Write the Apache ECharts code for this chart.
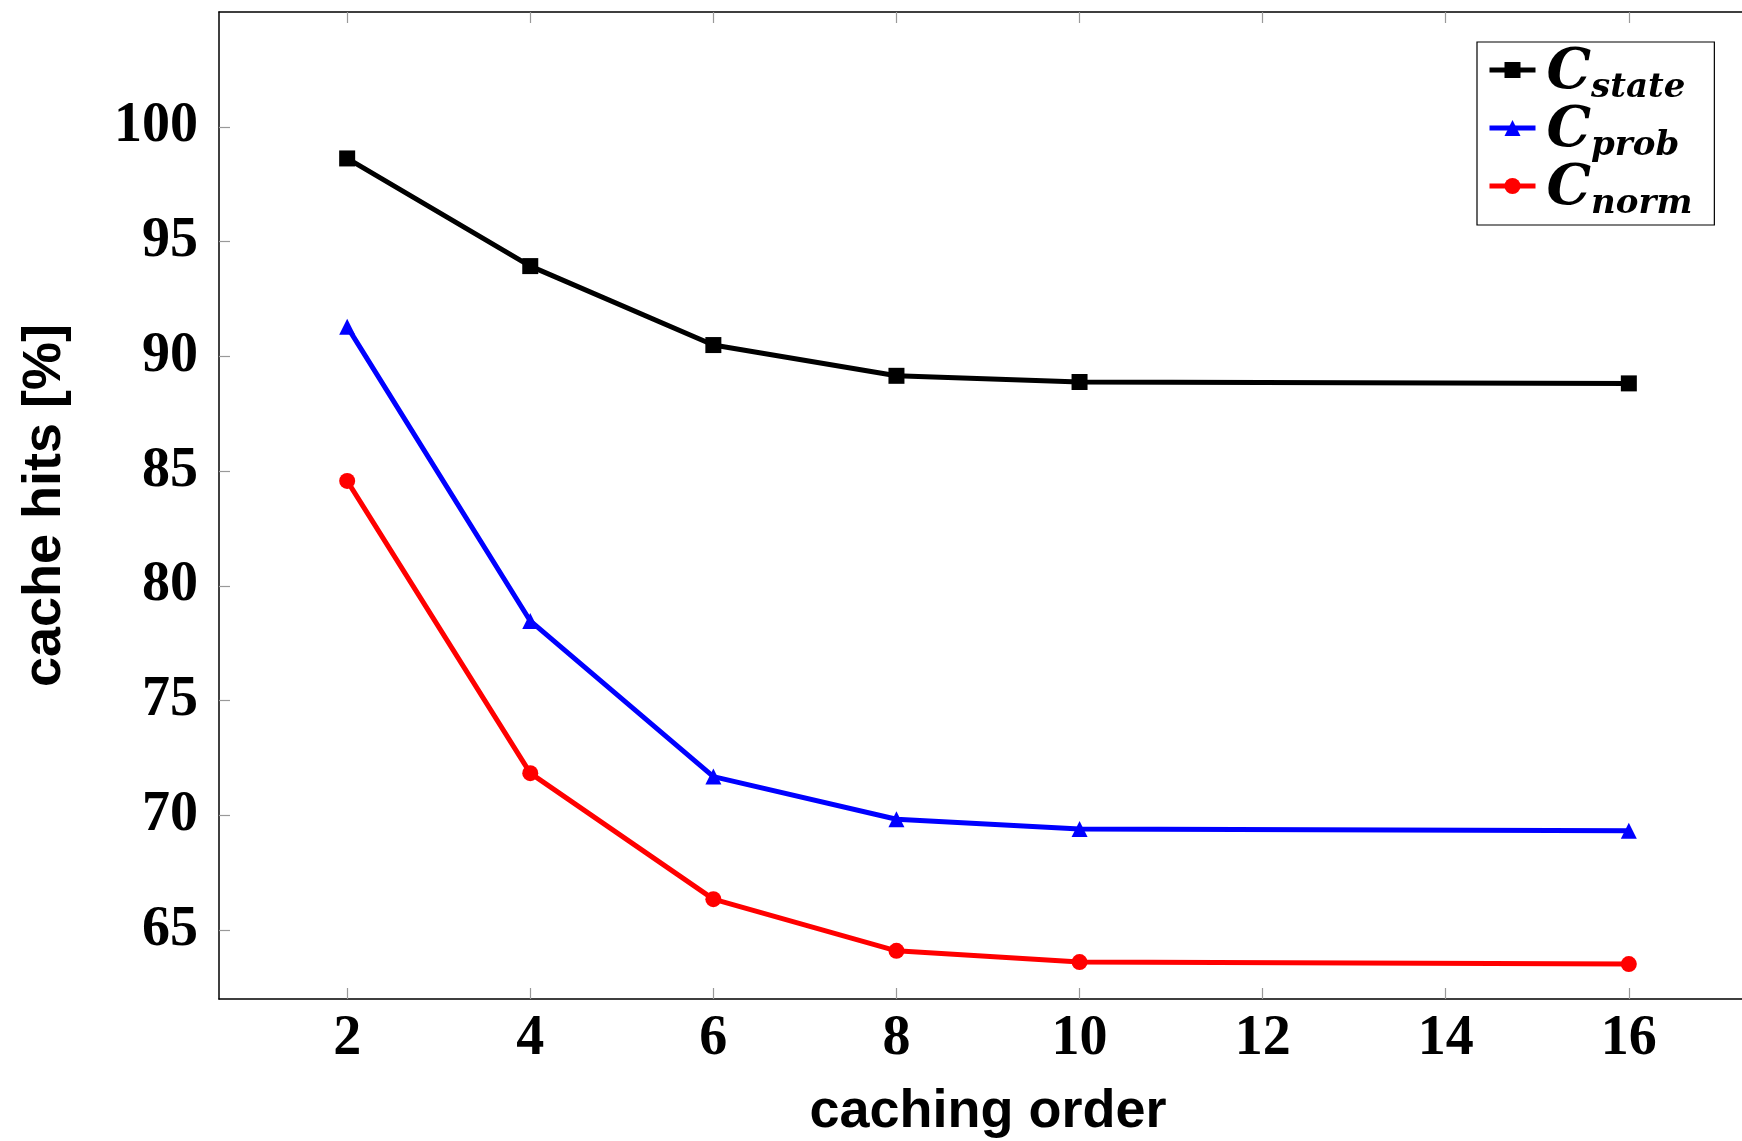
<!DOCTYPE html>
<html>
<head>
<meta charset="utf-8">
<script src="https://cdn.jsdelivr.net/npm/echarts@6/dist/echarts.min.js"></script>
<style>
  html, body { margin: 0; padding: 0; background: #fff; }
  #chart { width: 1742px; height: 1141px; }
</style>
</head>
<body>
<div id="chart"></div>
<script>
// caching order (x) and cache hit ratio per variant
const cachingOrder = [2, 4, 6, 8, 10, 16]
const stateHits = [98.62, 93.93, 90.49, 89.15, 88.88, 88.82]
const probHits = [91.29, 78.47, 71.69, 69.83, 69.41, 69.33]
const normHits = [84.57, 71.84, 66.35, 64.10, 63.61, 63.52]

const xTicks = [2, 4, 6, 8, 10, 12, 14, 16]
const yTicks = [65, 70, 75, 80, 85, 90, 95, 100]

const seriesNames = ['state', 'prob', 'norm']
const seriesColors = ['#000000', '#0000ff', '#ff0000']
const seriesSymbols = ['rect', 'triangle', 'circle']
const seriesValues = [stateHits, probHits, normHits]

const tickFont = {
  fontFamily: 'Liberation Serif',
  fontWeight: 'bold',
  fontSize: 56,
  color: '#000'
}
const nameFont = {
  fontFamily: 'Liberation Sans',
  fontWeight: 'bold',
  fontSize: 54,
  color: '#000'
}
const tickStyle = { color: '#999', width: 1.2 }

const chart = echarts.init(document.getElementById('chart'))

const option = {
  animation: false,
  backgroundColor: '#fff',
  // plot area runs past the right edge of the canvas, like the original
  grid: {
    left: 219, top: 12, right: -15, bottom: 142,
    containLabel: false,
    outerBoundsMode: 'none'
  },
  legend: {
    orient: 'vertical',
    left: 1477,
    top: 42,
    padding: [3, 22, 4, 10],
    itemGap: -2,
    itemWidth: 46,
    itemHeight: 20,
    borderColor: '#000',
    borderWidth: 1.2,
    backgroundColor: '#fff',
    lineStyle: { width: 5 },
    formatter: name => '{c|C}{s|' + name + '}',
    textStyle: {
      padding: [0, 0, 0, 6],
      rich: {
        c: {
          fontFamily: 'DejaVu Serif',
          fontStyle: 'italic',
          fontWeight: 'bold',
          fontSize: 56,
          lineHeight: 50,
          verticalAlign: 'top',
          color: '#000'
        },
        s: {
          fontFamily: 'DejaVu Serif',
          fontStyle: 'italic',
          fontWeight: 'bold',
          fontSize: 34,
          lineHeight: 24,
          padding: [26, 0, 0, 0],
          verticalAlign: 'top',
          color: '#000'
        }
      }
    }
  },
  xAxis: [
    {
      type: 'value',
      position: 'bottom',
      min: 0.6,
      max: 17.4,
      name: 'caching order',
      nameLocation: 'middle',
      nameGap: 86,
      nameTextStyle: nameFont,
      axisLine: { show: true, onZero: false, lineStyle: { color: '#000', width: 1.5 } },
      axisTick: { show: true, inside: true, length: 11, customValues: xTicks, lineStyle: tickStyle },
      axisLabel: { customValues: xTicks, margin: 13, ...tickFont },
      splitLine: { show: false }
    },
    {
      type: 'value',
      position: 'top',
      min: 0.6,
      max: 17.4,
      axisLine: { show: true, onZero: false, lineStyle: { color: '#000', width: 1.5 } },
      axisTick: { show: true, inside: true, length: 11, customValues: xTicks, lineStyle: tickStyle },
      axisLabel: { show: false },
      splitLine: { show: false }
    }
  ],
  yAxis: [
    {
      type: 'value',
      min: 62,
      max: 105,
      name: 'cache hits [%]',
      nameLocation: 'middle',
      nameGap: 147,
      nameTextStyle: nameFont,
      axisLine: { show: true, onZero: false, lineStyle: { color: '#000', width: 1.5 } },
      axisTick: { show: true, inside: true, length: 11, customValues: yTicks, lineStyle: tickStyle },
      axisLabel: { customValues: yTicks, margin: 21, ...tickFont },
      splitLine: { show: false }
    }
  ],
  series: seriesNames.map((name, i) => ({
    name: name,
    type: 'line',
    xAxisIndex: 0,
    yAxisIndex: 0,
    data: cachingOrder.map((x, j) => [x, seriesValues[i][j]]),
    symbol: seriesSymbols[i],
    symbolSize: 16,
    showAllSymbol: true,
    lineStyle: { color: seriesColors[i], width: 5 },
    itemStyle: { color: seriesColors[i], borderWidth: 0 }
  }))
}

chart.setOption(option)
</script>
</body>
</html>
